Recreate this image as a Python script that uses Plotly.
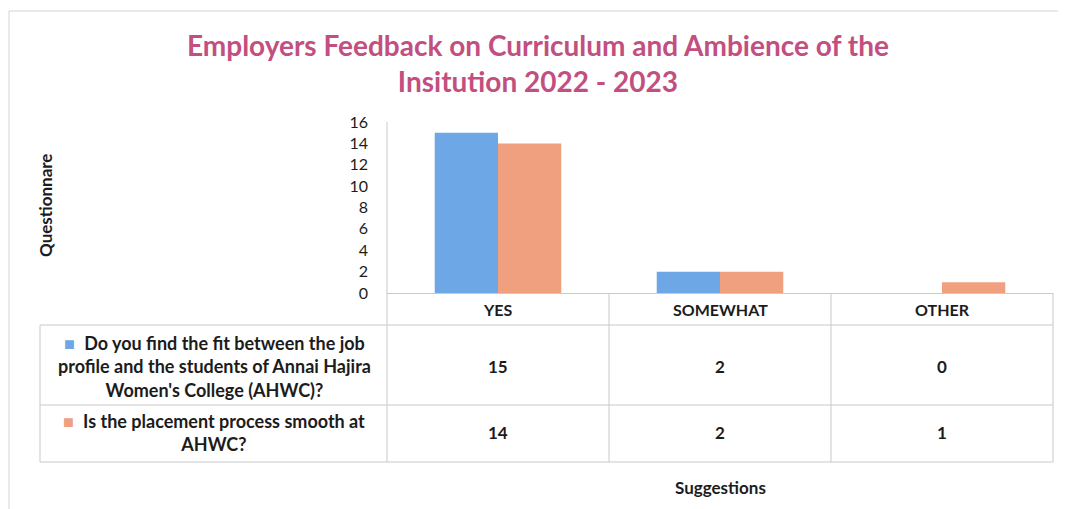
import plotly.graph_objects as go

# chart data
CATEGORIES = ["YES", "SOMEWHAT", "OTHER"]
SERIES_NAMES = [
    "Do you find the fit between the job<br>profile and the students of Annai Hajira<br>Women's College (AHWC)?",
    "Is the placement process smooth at<br>AHWC?",
]
FIT_VALUES = [15, 2, 0]
PLACEMENT_VALUES = [14, 2, 1]
Y_TICKS = [0, 2, 4, 6, 8, 10, 12, 14, 16]

TITLE = "Employers Feedback on Curriculum and Ambience of the<br>Insitution 2022 - 2023"

THEME = {
    "blue": "#6da7e6",
    "orange": "#f0a07f",
    "title": "#c24f7f",
    "text": "#1c1c1c",
    "grid": "#c9c9cf",
    "font": "Lato, 'Open Sans', sans-serif",
}

# the page body adds an 8px margin, so the figure is drawn 8px in from the window
OFFSET = 8
W, H = 1058, 501
M = {"l": 379, "r": 13, "t": 114, "b": 216}
PLOT_H = H - M["t"] - M["b"]
PLOT_W = W - M["l"] - M["r"]


def py(pixel_y):
    # window pixel row -> paper y (0 at the baseline, 1 at the top of the plot area)
    return (H - M["b"] - (pixel_y - OFFSET)) / PLOT_H


def px(pixel_x):
    return ((pixel_x - OFFSET) - M["l"]) / PLOT_W


fig = go.Figure()
fig.add_trace(go.Bar(x=CATEGORIES, y=FIT_VALUES, name="fit",
                     marker={"color": THEME["blue"], "line": {"width": 0}}))
fig.add_trace(go.Bar(x=CATEGORIES, y=PLACEMENT_VALUES, name="placement",
                     marker={"color": THEME["orange"], "line": {"width": 0}}))


def note(text, x, y, xref="paper", size=17, color=None, **kw):
    return {"text": text, "x": x, "y": y, "xref": xref, "yref": "paper",
            "xanchor": "center", "yanchor": "middle", "showarrow": False,
            "font": {"size": size, "color": color or THEME["text"]}, **kw}


annotations = [
    note(f"<b>{TITLE}</b>", px(538), py(63), size=28, color=THEME["title"], align="center"),
    note("<b>Questionnare</b>", px(45), py(206), size=17, textangle=-90),
    note("<b>Suggestions</b>", 0.5, py(487), size=17),
]

# table: header row, then one row per series
row_y = [py(366), py(432)]
for cat in CATEGORIES:
    annotations.append(note(f"<b>{cat}</b>", cat, py(309), xref="x", size=16))
for vals, yy in zip([FIT_VALUES, PLACEMENT_VALUES], row_y):
    for cat, v in zip(CATEGORIES, vals):
        annotations.append(note(f"<b>{v}</b>", cat, yy, xref="x", size=17))
for name, color, yy in zip(SERIES_NAMES, [THEME["blue"], THEME["orange"]], row_y):
    label = f"<span style='color:{color}'>■</span>  <b>{name}</b>"
    annotations.append(note(label, px(214), yy, align="center", size=18))

line = {"color": THEME["grid"], "width": 1}
shapes = [
    # outer chart border (top and left edges are all that sit inside the window)
    {"type": "line", "xref": "paper", "yref": "paper", "x0": px(9), "x1": px(1066),
     "y0": py(11), "y1": py(11), "line": {"color": "#d4d4d8", "width": 1}},
    {"type": "line", "xref": "paper", "yref": "paper", "x0": px(9), "x1": px(9),
     "y0": py(509), "y1": py(11), "line": {"color": "#d4d4d8", "width": 1}},
    # left axis line running down through the table
    {"type": "line", "xref": "paper", "yref": "paper", "x0": 0, "x1": 0, "y0": py(462), "y1": 1, "line": line},
    {"type": "line", "xref": "paper", "yref": "paper", "x0": 1, "x1": 1, "y0": py(462), "y1": 0, "line": line},
    {"type": "line", "xref": "paper", "yref": "paper", "x0": px(40), "x1": px(40), "y0": py(462), "y1": py(325), "line": line},
]
for yy in [py(325), py(405), py(462)]:
    shapes.append({"type": "line", "xref": "paper", "yref": "paper", "x0": px(40), "x1": 1,
                   "y0": yy, "y1": yy, "line": line})
for xb in [0.5, 1.5]:
    shapes.append({"type": "line", "xref": "x", "yref": "paper", "x0": xb, "x1": xb,
                   "y0": py(462), "y1": 0, "line": line})

fig.update_layout(
    width=W, height=H,
    margin=M,
    paper_bgcolor="#ffffff",
    plot_bgcolor="#ffffff",
    font={"family": THEME["font"], "color": THEME["text"]},
    barmode="group",
    bargap=0.43,
    bargroupgap=0,
    showlegend=False,
    xaxis={"type": "category", "range": [-0.5, 2.5], "showticklabels": False,
           "showline": True, "linecolor": THEME["grid"], "showgrid": False, "ticks": ""},
    yaxis={"range": [0, 16], "tickvals": Y_TICKS, "showgrid": False, "zeroline": False,
           "showline": False, "ticks": "", "ticklabelstandoff": 18,
           "tickfont": {"size": 16, "color": THEME["text"], "family": THEME["font"]},
           "tickprefix": "<b>", "ticksuffix": "</b>"},
    annotations=annotations,
    shapes=shapes,
)

fig.write_html("out.html")
